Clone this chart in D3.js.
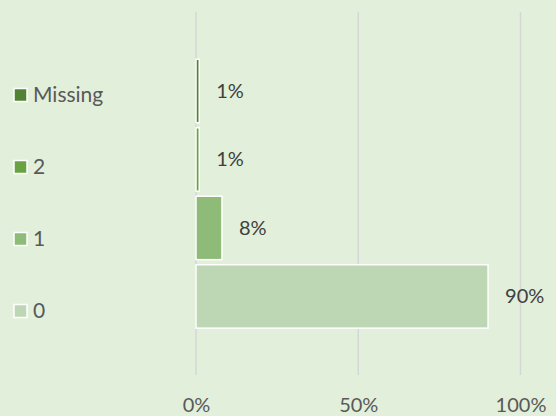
<!DOCTYPE html>
<html><head><meta charset="utf-8">
<script src="https://cdn.jsdelivr.net/npm/d3@7"></script>
<style>body{margin:0;background:#e2efda;}svg{display:block;}</style>
</head><body><svg id="c" width="556" height="416"></svg>
<script>
const categories = ["Missing", "2", "1", "0"];
const values = [0.01, 0.01, 0.08, 0.90];
const valueLabels = ["1%", "1%", "8%", "90%"];
const legendLabels = ["Missing", "2", "1", "0"];
const colors = ["#548235", "#6aa142", "#8fbb78", "#bdd6b3"];
const xTicks = [0, 0.5, 1];
const xTickLabels = ["0%", "50%", "100%"];

const svg = d3.select("#c");
const font = "Lato, 'Open Sans', sans-serif";
svg.append("rect").attr("width", 556).attr("height", 416).attr("fill", "#e2efda");

const x = d3.scaleLinear().domain([0, 1]).range([196, 520.5]);
const y = d3.scaleBand().domain(categories).range([54.2, 333.2]).padding(0.074);

// gridlines
svg.append("g").selectAll("line").data(xTicks).join("line")
  .attr("x1", d => x(d)).attr("x2", d => x(d))
  .attr("y1", 12).attr("y2", 375)
  .attr("stroke", "#d6d6d6").attr("stroke-width", 1.5);

// bars
svg.append("g").selectAll("rect").data(categories).join("rect")
  .attr("x", x(0))
  .attr("y", d => y(d))
  .attr("width", (d, i) => x(values[i]) - x(0))
  .attr("height", y.bandwidth())
  .attr("fill", (d, i) => colors[i])
  .attr("stroke", "#ffffff").attr("stroke-width", 1.5);

// value labels
svg.append("g").selectAll("text").data(categories).join("text")
  .attr("x", (d, i) => x(values[i]) + 17)
  .attr("y", d => y(d) + y.bandwidth() / 2)
  .attr("dy", "0.35em")
  .attr("font-family", font).attr("font-size", 20).attr("fill", "#404040")
  .text((d, i) => valueLabels[i]);

// x axis tick labels
const xAxis = d3.axisBottom(x).tickValues(xTicks).tickFormat((d, i) => xTickLabels[i]).tickSize(0).tickPadding(0);
const gx = svg.append("g").attr("transform", "translate(0,398)").call(xAxis);
gx.select(".domain").remove();
gx.selectAll("text").attr("font-family", font).attr("font-size", 20).attr("fill", "#595959").attr("dy", "0.71em");

// legend
const leg = svg.append("g").selectAll("g").data(legendLabels).join("g")
  .attr("transform", (d, i) => `translate(14,${95 + i * 72})`);
leg.append("rect").attr("x", 0).attr("y", -6.5).attr("width", 13).attr("height", 13)
  .attr("fill", (d, i) => colors[i]).attr("stroke", "#ffffff").attr("stroke-width", 1.5);
leg.append("text").attr("x", 19).attr("y", 0).attr("dy", "0.35em")
  .attr("font-family", font).attr("font-size", 21).attr("fill", "#595959")
  .text(d => d);
</script></body></html>
